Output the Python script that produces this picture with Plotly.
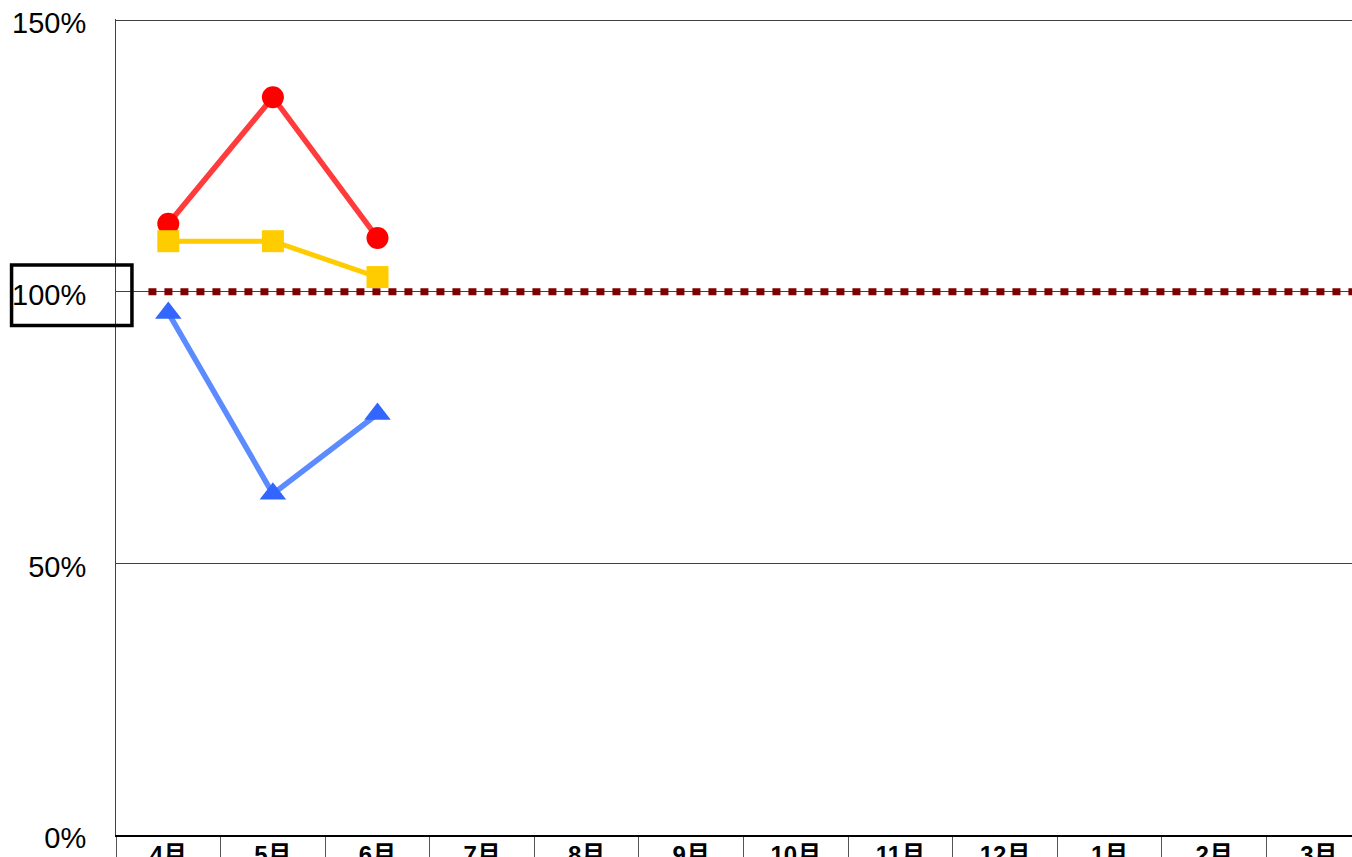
import plotly.graph_objects as go

months = ["4月", "5月", "6月", "7月", "8月", "9月", "10月", "11月", "12月", "1月", "2月", "3月"]
series_red = [112.5, 135.8, 109.9]
series_yellow = [109.3, 109.3, 102.7]
series_blue = [96.1, 62.8, 77.5]
target_value = 100
y_ticks = [0, 50, 100, 150]
y_tick_labels = ["0%", "50%", "100%", "150%"]

fig = go.Figure()

fig.add_trace(go.Scatter(
    x=months[:len(series_red)], y=series_red, mode="lines+markers", name="系列1",
    line=dict(color="#FF3B3B", width=5.5),
    marker=dict(symbol="circle", size=22, color="#FF0000", line=dict(width=0)),
))
fig.add_trace(go.Scatter(
    x=months[:len(series_yellow)], y=series_yellow, mode="lines+markers", name="系列2",
    line=dict(color="#FFCC00", width=5),
    marker=dict(symbol="square", size=22, color="#FFCC00", line=dict(width=0)),
))
fig.add_trace(go.Scatter(
    x=months[:len(series_blue)], y=series_blue, mode="lines+markers", name="系列3",
    line=dict(color="#5B8BFF", width=5.5),
    marker=dict(symbol="triangle-up", size=23, color="#3366FF", line=dict(width=0)),
))

# target line (100%)
fig.add_shape(type="line", xref="x", yref="y", x0=-0.19, x1=11.5, y0=target_value, y1=target_value,
              line=dict(color="#800000", width=7, dash="8px,8px"), layer="between")

# box around the 100% label
fig.add_shape(type="rect", xref="paper", yref="y", x0=-0.0845, x1=0.0129, y0=93.8, y1=104.9,
              line=dict(color="#000000", width=3.5), fillcolor="rgba(0,0,0,0)", layer="above")

fig.update_layout(
    width=1352, height=857,
    margin=dict(l=116, r=0, t=19, b=22, autoexpand=False),
    paper_bgcolor="white", plot_bgcolor="white",
    showlegend=False,
    font=dict(family="Arial, 'Liberation Sans', 'Noto Sans CJK JP'", color="#000000"),
)

fig.update_xaxes(
    type="category", categoryorder="array", categoryarray=months,
    range=[-0.5, 11.317], automargin=False,
    showgrid=False, zeroline=False,
    showline=True, linecolor="#000000", linewidth=1.5,
    ticks="outside", tickson="boundaries", ticklen=40, tickcolor="#555555", tickwidth=1,
    tickfont=dict(size=24, weight="bold", family="Arial, 'Liberation Sans', 'Noto Sans CJK JP'"),
    ticklabelstandoff=-3,
)
fig.update_yaxes(
    range=[0, 150.2], tickvals=y_ticks, ticktext=y_tick_labels, automargin=False,
    showgrid=True, gridcolor="#404040", gridwidth=1,
    zeroline=False,
    showline=True, linecolor="#404040", linewidth=1,
    ticks="inside", ticklen=10, tickcolor="#404040",
    tickfont=dict(size=29),
    ticklabelstandoff=23, ticklabelshift=3,
)

fig.write_html("out.html")
